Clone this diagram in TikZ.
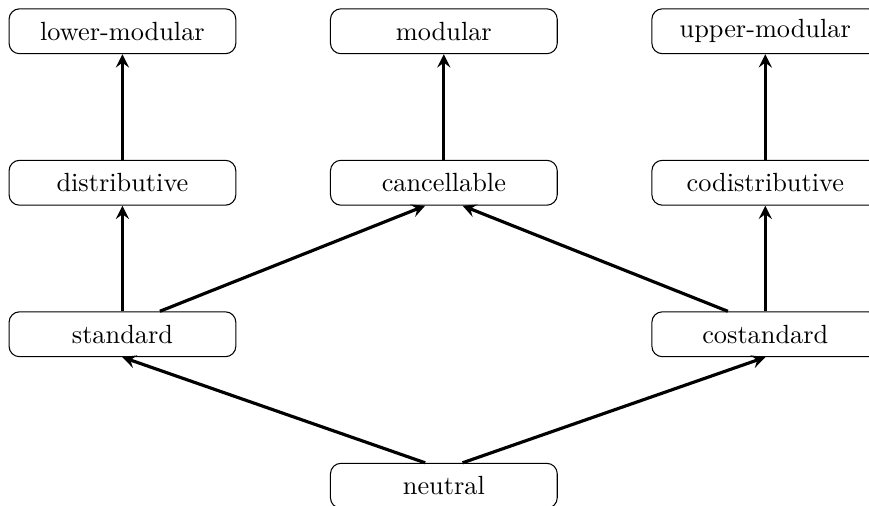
\documentclass[tikz,border=0pt]{standalone}
\usepackage{tikz}
\usetikzlibrary{positioning,arrows}

\begin{document}
\begin{tikzpicture}[->,>=stealth,
  prop/.style={draw,rounded corners,thin,minimum width=3.03cm,minimum height=0.6cm}]

\clip (0,0) rectangle (11.61,6.76);

\node[prop] (neutral) at (5.93,0.27) {neutral};
\node[prop,above left = 1.41cm and 1.25cm of neutral] (std) {standard};
\node[prop,above right = 1.41cm and 1.25cm of neutral] (costd) {costandard};
\node[prop,above = 1.41cm of std] (dist) {distributive};
\node[prop,right = 1.25cm of dist] (canc) {cancellable};
\node[prop,above = 1.41cm of costd] (codist) {codistributive};
\node[prop,above = 1.41cm of dist] (lmod) {lower-modular};
\node[prop,above = 1.41cm of canc] (mod) {modular};
\node[prop,above = 1.41cm of codist] (umod) {upper-modular};

\path[very thick] ([xshift=-0.25cm]neutral.north) edge (std.south);
\path[very thick] ([xshift=0.25cm]neutral.north) edge (costd.south);
\path[very thick] (std.north) edge (dist.south);
\path[very thick] ([xshift=0.5cm]std.north) edge ([xshift=-0.25cm]canc.south);
\path[very thick] ([xshift=-0.5cm]costd.north) edge ([xshift=0.25cm]canc.south);
\path[very thick] (costd.north) edge (codist.south);
\path[very thick] (dist.north) edge (lmod.south);
\path[very thick] (canc.north) edge (mod.south);
\path[very thick] (codist.north) edge (umod.south);

\end{tikzpicture}
\end{document}
